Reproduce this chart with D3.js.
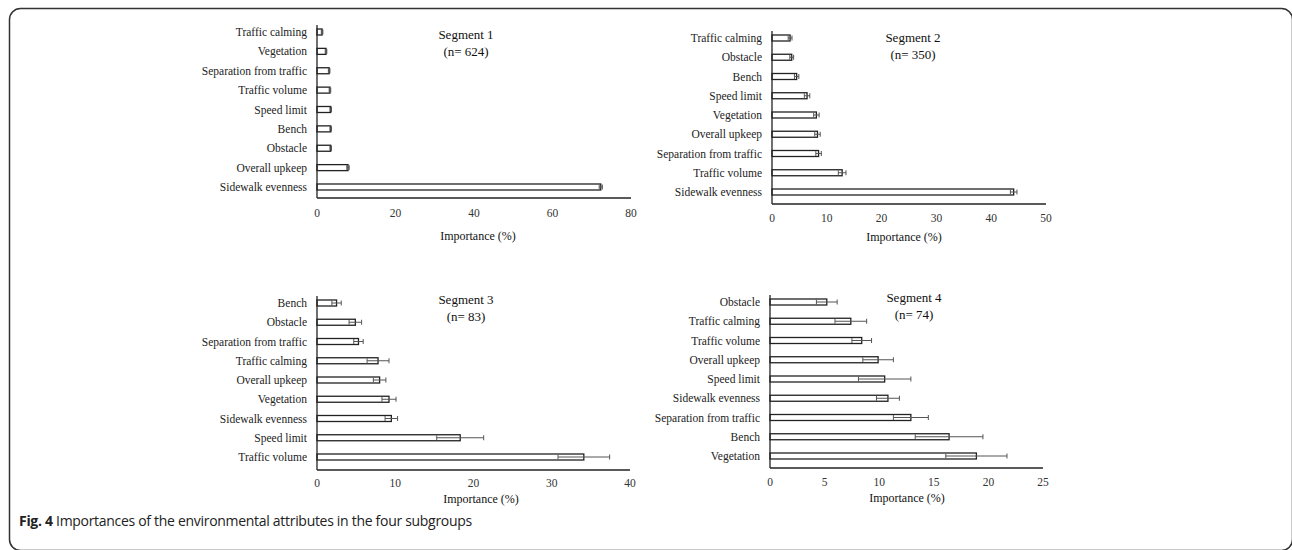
<!DOCTYPE html>
<html>
<head>
<meta charset="utf-8">
<script src="https://cdn.jsdelivr.net/npm/d3@7"></script>
<style>
  body { margin: 0; background: #fff; }
  svg { display: block; }
</style>
</head>
<body>
<div id="chart"></div>
<script>
// Segment 1 (n= 624)
var seg1Labels = ["Traffic calming", "Vegetation", "Separation from traffic", "Traffic volume", "Speed limit", "Bench", "Obstacle", "Overall upkeep", "Sidewalk evenness"];
var seg1Values = [1.3, 2.3, 3.1, 3.3, 3.5, 3.5, 3.5, 7.9, 72.3];
var seg1Errors = [0.2, 0.2, 0.2, 0.2, 0.2, 0.2, 0.2, 0.3, 0.4];

// Segment 2 (n= 350)
var seg2Labels = ["Traffic calming", "Obstacle", "Bench", "Speed limit", "Vegetation", "Overall upkeep", "Separation from traffic", "Traffic volume", "Sidewalk evenness"];
var seg2Values = [3.3, 3.6, 4.5, 6.4, 8.1, 8.3, 8.5, 12.8, 44.1];
var seg2Errors = [0.35, 0.35, 0.4, 0.5, 0.5, 0.5, 0.5, 0.7, 0.6];

// Segment 3 (n= 83)
var seg3Labels = ["Bench", "Obstacle", "Separation from traffic", "Traffic calming", "Overall upkeep", "Vegetation", "Sidewalk evenness", "Speed limit", "Traffic volume"];
var seg3Values = [2.5, 4.9, 5.3, 7.8, 8.0, 9.2, 9.5, 18.3, 34.1];
var seg3Errors = [0.6, 0.8, 0.6, 1.4, 0.8, 0.9, 0.8, 3.0, 3.3];

// Segment 4 (n= 74)
var seg4Labels = ["Obstacle", "Traffic calming", "Traffic volume", "Overall upkeep", "Speed limit", "Sidewalk evenness", "Separation from traffic", "Bench", "Vegetation"];
var seg4Values = [5.2, 7.4, 8.4, 9.9, 10.5, 10.8, 12.9, 16.4, 18.9];
var seg4Errors = [0.95, 1.45, 0.9, 1.4, 2.4, 1.05, 1.6, 3.1, 2.8];

var xMaxes = [80, 50, 40, 25];
var xSteps = [20, 10, 10, 5];
var segTitles = ["Segment 1", "Segment 2", "Segment 3", "Segment 4"];
var segN = ["(n= 624)", "(n= 350)", "(n= 83)", "(n= 74)"];

// layout of each panel
var panels = [
  {left: 317, right: 631, firstY: 32, lastY: 187, axisY: 198, topY: 25, tickY: 213, titleX: 466, titleY: 34, xTitleX: 478, xTitleY: 236},
  {left: 772, right: 1046, firstY: 38, lastY: 192, axisY: 204, topY: 31, tickY: 218, titleX: 913, titleY: 37, xTitleX: 904, xTitleY: 237},
  {left: 317, right: 630, firstY: 303, lastY: 457, axisY: 470, topY: 296, tickY: 483, titleX: 466, titleY: 299, xTitleX: 481, xTitleY: 499},
  {left: 770, right: 1043, firstY: 302, lastY: 456, axisY: 468, topY: 295, tickY: 482, titleX: 914, titleY: 297, xTitleX: 907, xTitleY: 498}
];

var series = [
  {labels: seg1Labels, values: seg1Values, errors: seg1Errors},
  {labels: seg2Labels, values: seg2Values, errors: seg2Errors},
  {labels: seg3Labels, values: seg3Values, errors: seg3Errors},
  {labels: seg4Labels, values: seg4Values, errors: seg4Errors}
];

var W = 1292, H = 550;
var serif = "'Liberation Serif', 'Times New Roman', serif";

var svg = d3.select("#chart").append("svg")
    .attr("width", W)
    .attr("height", H);

// figure frame
svg.append("rect")
    .attr("x", 9.5).attr("y", 8.5)
    .attr("width", 1283).attr("height", 542)
    .attr("rx", 11).attr("ry", 11)
    .attr("fill", "none")
    .attr("stroke", "#333")
    .attr("stroke-width", 1.5);

var barH = 6;

series.forEach(function(s, i) {
  var p = panels[i];
  var g = svg.append("g");

  var data = s.labels.map(function(l, k) {
    return {label: l, value: s.values[k], err: s.errors[k]};
  });

  var x = d3.scaleLinear().domain([0, xMaxes[i]]).range([p.left, p.right]);
  var y = d3.scalePoint().domain(s.labels).range([p.firstY, p.lastY]);

  // bars
  g.selectAll("rect.bar")
    .data(data)
    .enter().append("rect")
      .attr("class", "bar")
      .attr("x", x(0))
      .attr("y", function(d) { return y(d.label) - barH / 2; })
      .attr("width", function(d) { return x(d.value) - x(0); })
      .attr("height", barH)
      .attr("fill", "#fff")
      .attr("stroke", "#222")
      .attr("stroke-width", 1.3);

  // error bars
  var eb = g.selectAll("g.err")
    .data(data)
    .enter().append("g")
      .attr("class", "err")
      .attr("stroke", "#555")
      .attr("stroke-width", 1);

  eb.append("line")
    .attr("x1", function(d) { return x(d.value - d.err); })
    .attr("x2", function(d) { return x(d.value + d.err); })
    .attr("y1", function(d) { return y(d.label); })
    .attr("y2", function(d) { return y(d.label); });
  eb.append("line")
    .attr("x1", function(d) { return x(d.value - d.err); })
    .attr("x2", function(d) { return x(d.value - d.err); })
    .attr("y1", function(d) { return y(d.label) - 2.5; })
    .attr("y2", function(d) { return y(d.label) + 2.5; });
  eb.append("line")
    .attr("x1", function(d) { return x(d.value + d.err); })
    .attr("x2", function(d) { return x(d.value + d.err); })
    .attr("y1", function(d) { return y(d.label) - 2.5; })
    .attr("y2", function(d) { return y(d.label) + 2.5; });

  // axes lines
  g.append("line")
    .attr("x1", x(0)).attr("x2", x(0))
    .attr("y1", p.topY).attr("y2", p.axisY)
    .attr("stroke", "#222").attr("stroke-width", 1.3);
  g.append("line")
    .attr("x1", x(0)).attr("x2", x(xMaxes[i]))
    .attr("y1", p.axisY).attr("y2", p.axisY)
    .attr("stroke", "#222").attr("stroke-width", 1.3);

  // category labels
  g.selectAll("text.cat")
    .data(s.labels)
    .enter().append("text")
      .attr("class", "cat")
      .attr("x", x(0) - 10)
      .attr("y", function(d) { return y(d); })
      .attr("dy", "0.35em")
      .attr("text-anchor", "end")
      .style("font-family", serif)
      .style("font-size", "11.5px")
      .attr("fill", "#222")
      .text(function(d) { return d; });

  // x tick labels
  g.selectAll("text.tick")
    .data(d3.range(0, xMaxes[i] + 0.001, xSteps[i]))
    .enter().append("text")
      .attr("class", "tick")
      .attr("x", function(d) { return x(d); })
      .attr("y", p.tickY)
      .attr("dy", "0.35em")
      .attr("text-anchor", "middle")
      .style("font-family", serif)
      .style("font-size", "11.5px")
      .attr("fill", "#333")
      .text(function(d) { return d; });

  // axis title
  g.append("text")
    .attr("x", p.xTitleX)
    .attr("y", p.xTitleY)
    .attr("dy", "0.35em")
    .attr("text-anchor", "middle")
    .style("font-family", serif)
    .style("font-size", "12px")
    .attr("fill", "#111")
    .text("Importance (%)");

  // segment title
  g.append("text")
    .attr("x", p.titleX)
    .attr("y", p.titleY)
    .attr("dy", "0.35em")
    .attr("text-anchor", "middle")
    .style("font-family", serif)
    .style("font-size", "13px")
    .attr("fill", "#111")
    .text(segTitles[i]);
  g.append("text")
    .attr("x", p.titleX)
    .attr("y", p.titleY + 17)
    .attr("dy", "0.35em")
    .attr("text-anchor", "middle")
    .style("font-family", serif)
    .style("font-size", "13px")
    .attr("fill", "#111")
    .text(segN[i]);
});

// caption
var cap = svg.append("text")
    .attr("x", 19)
    .attr("y", 526)
    .style("font-family", "'Open Sans', 'Noto Sans', sans-serif")
    .style("font-size", "14px")
    .style("letter-spacing", "-0.3px")
    .attr("fill", "#222");
cap.append("tspan").style("font-weight", "bold").text("Fig. 4");
cap.append("tspan").text(" Importances of the environmental attributes in the four subgroups");
</script>
</body>
</html>
